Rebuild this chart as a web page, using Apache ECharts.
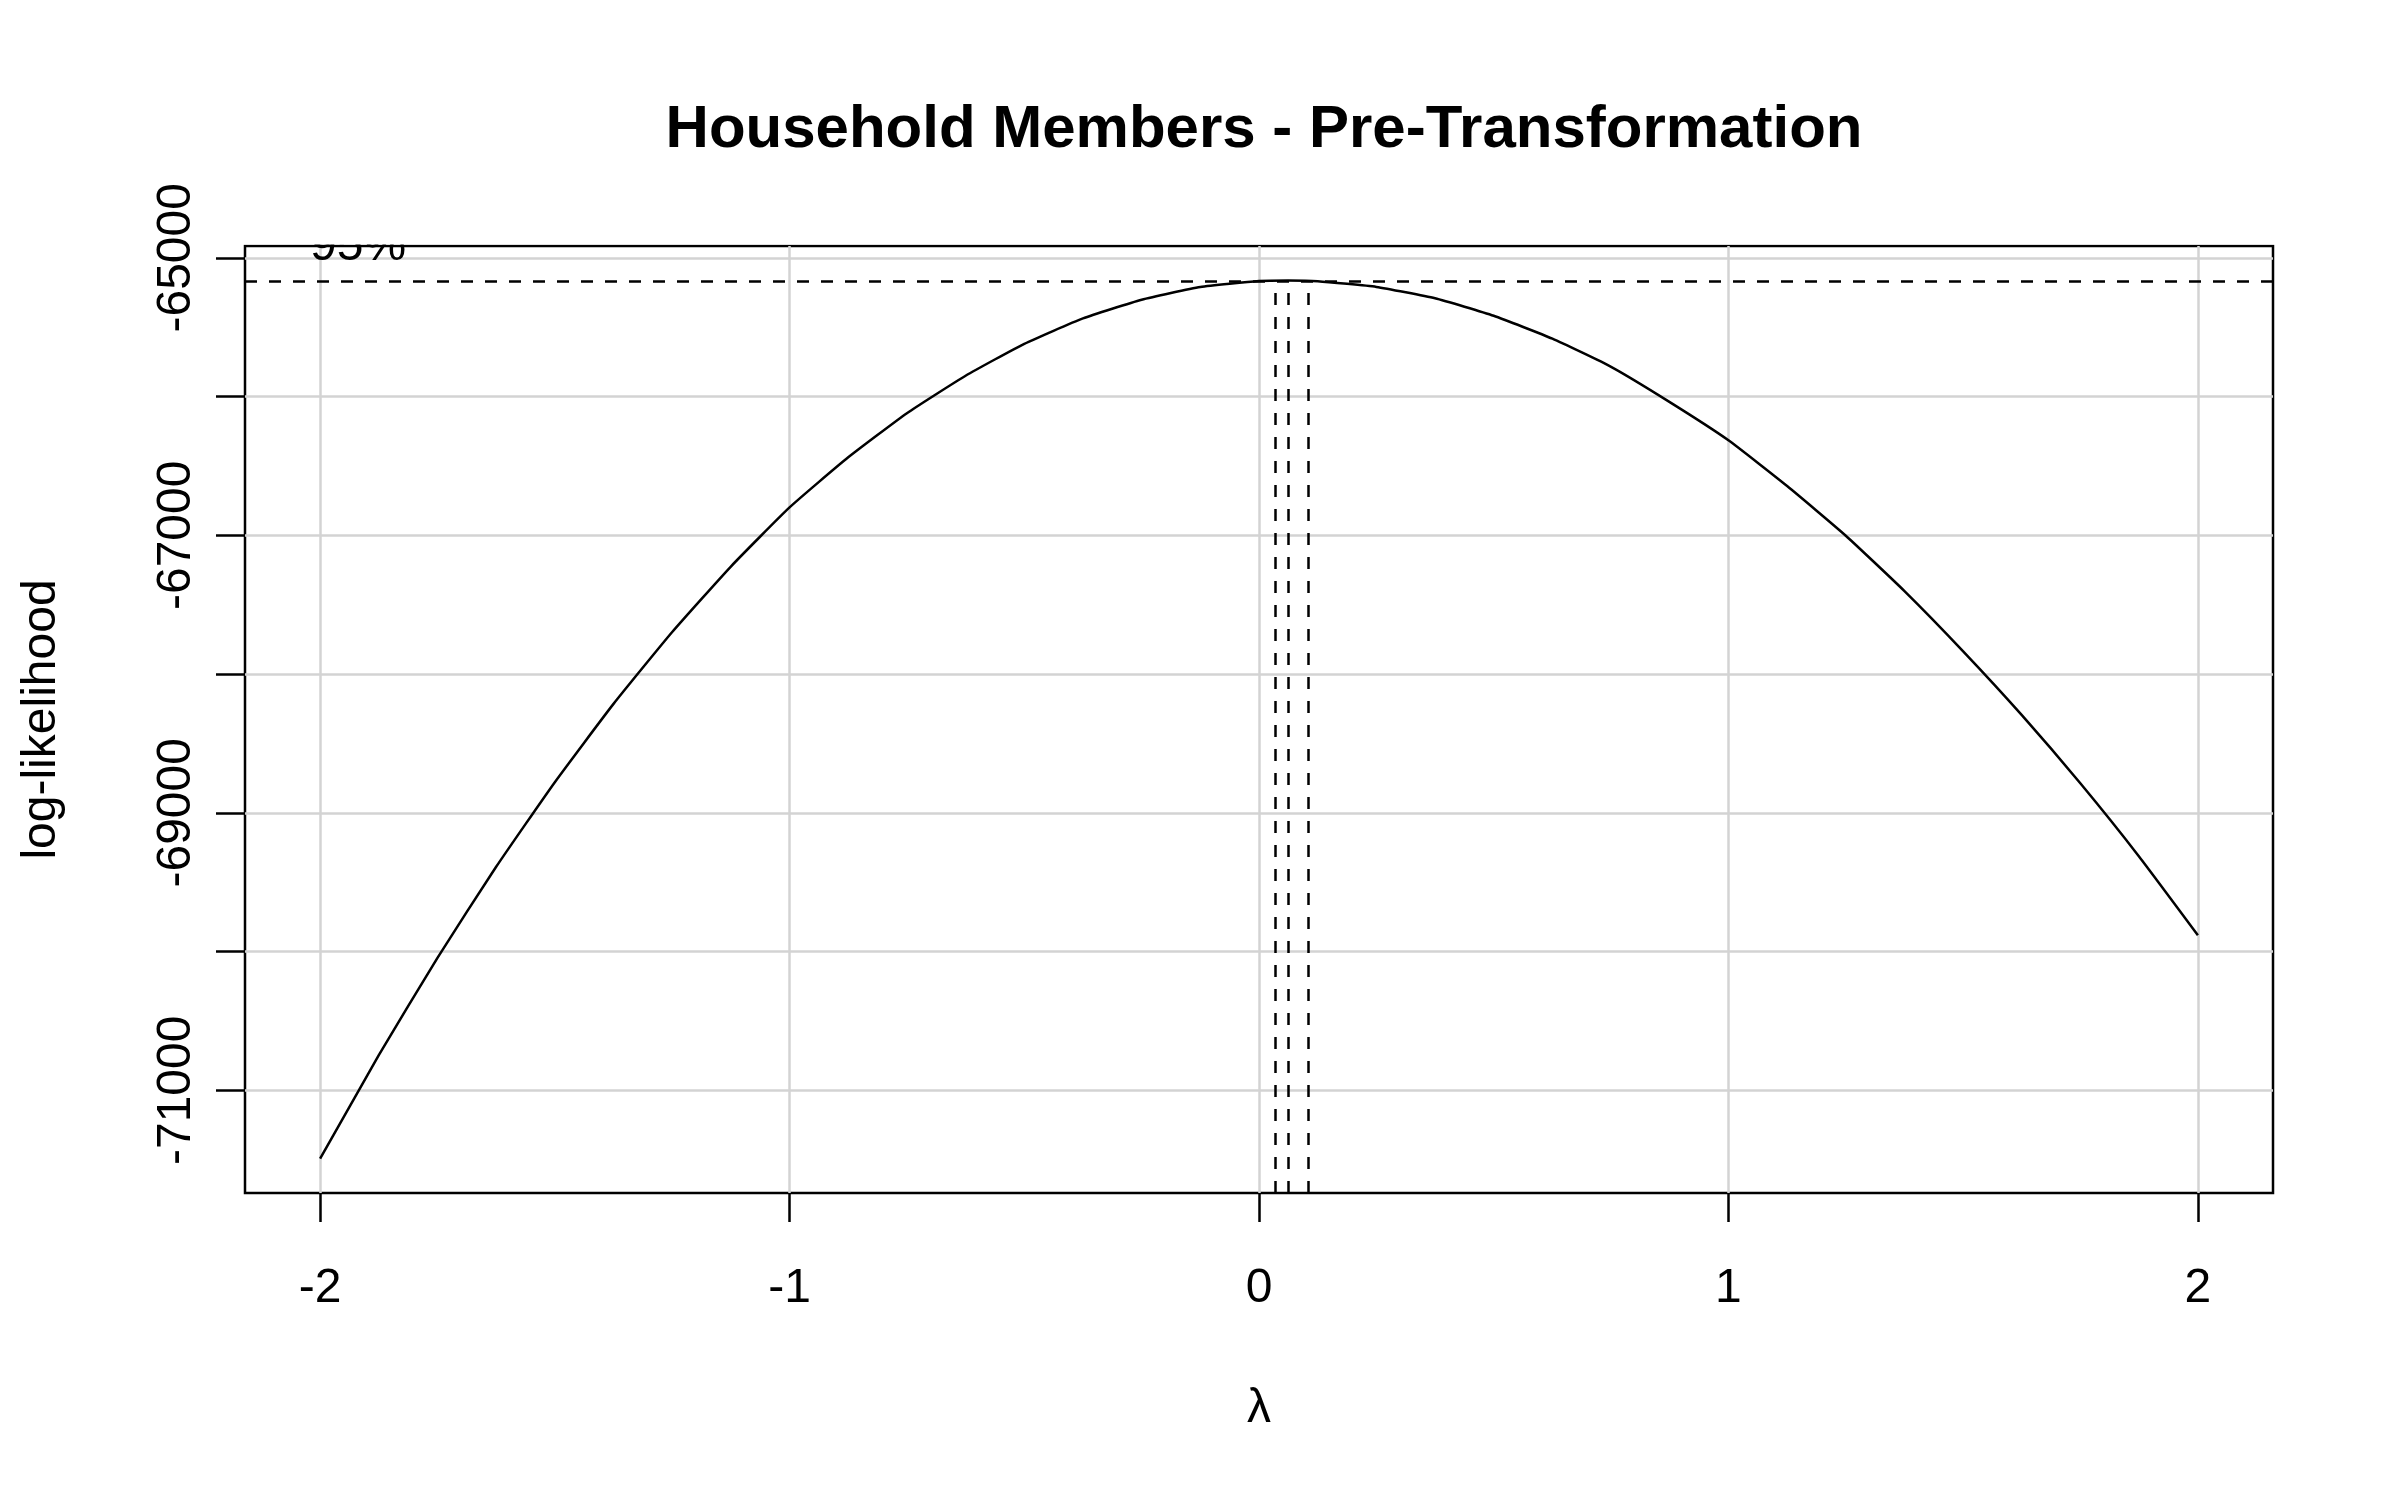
<!DOCTYPE html>
<html>
<head>
<meta charset="utf-8">
<script src="https://cdn.jsdelivr.net/npm/echarts@6/dist/echarts.min.js"></script>
<style>
html, body { margin: 0; padding: 0; background: #ffffff; }
#chart { width: 2400px; height: 1500px; }
</style>
</head>
<body>
<div id="chart"></div>
<script>
// ---- data ----
const lambdaValues = [-2, -1.875, -1.75, -1.625, -1.5, -1.375, -1.25, -1.125, -1, -0.875, -0.75, -0.625, -0.5, -0.375, -0.25, -0.125, 0, 0.062, 0.125, 0.25, 0.375, 0.5, 0.625, 0.75, 0.875, 1, 1.125, 1.25, 1.375, 1.5, 1.625, 1.75, 1.875, 2];
const logLikValues = [-71493, -70747, -70045, -69389, -68779, -68215, -67697, -67225, -66799, -66438, -66120, -65850, -65620, -65437, -65302, -65210, -65168, -65164, -65169, -65210, -65292, -65418, -65583, -65786, -66040, -66315, -66645, -67003, -67402, -67836, -68296, -68789, -69316, -69882];
const ciLevel = -65166;            // 95% log-likelihood cut-off
const ciLambdas = [0.034, 0.062, 0.104];
const xTickValues = [-2, -1, 0, 1, 2];
const yTickValues = [-65000, -66000, -67000, -68000, -69000, -70000, -71000];
const yLabelValues = [-65000, -67000, -69000, -71000];
const xRange = [-2.16, 2.16];
const yRange = [-71740, -64915];
const titleText = 'Household Members - Pre-Transformation';
const xName = 'λ';
const yName = 'log-likelihood';
const ciText = '95%';

const FONT = '"Liberation Sans", Arial, sans-serif';
const seriesData = lambdaValues.map((l, i) => [l, logLikValues[i]]);

const chart = echarts.init(document.getElementById('chart'), null, { renderer: 'canvas' });
chart.setOption({
  backgroundColor: '#ffffff',
  animation: false,
  title: {
    text: titleText,
    left: 1259,
    textAlign: 'center',
    top: 95,
    textStyle: { fontFamily: FONT, fontSize: 60, fontWeight: 'bold', color: '#000' }
  },
  grid: {
    left: 245, right: 127, top: 246, bottom: 307,
    show: true, borderColor: '#000', borderWidth: 2.5, backgroundColor: 'transparent'
  },
  xAxis: {
    type: 'value', min: xRange[0], max: xRange[1],
    name: xName, nameLocation: 'middle', nameGap: 192,
    nameTextStyle: { fontFamily: FONT, fontSize: 48, color: '#000' },
    axisLine: { show: false, onZero: false },
    axisTick: { show: true, inside: false, length: 29, customValues: xTickValues, lineStyle: { color: '#000', width: 2.5 } },
    axisLabel: { show: true, customValues: xTickValues, margin: 72, fontFamily: FONT, fontSize: 48, color: '#000', formatter: v => String(v) },
    splitLine: { show: true, lineStyle: { color: '#d3d3d3', width: 2.5 } }
  },
  yAxis: {
    type: 'value', min: yRange[0], max: yRange[1],
    name: yName, nameLocation: 'middle', nameGap: 179, nameRotate: 90,
    nameTextStyle: { fontFamily: FONT, fontSize: 48, color: '#000' },
    axisLine: { show: false, onZero: false },
    axisTick: { show: true, inside: false, length: 29, customValues: yTickValues, lineStyle: { color: '#000', width: 2.5 } },
    axisLabel: { show: true, customValues: yLabelValues, rotate: 90, margin: 44, fontFamily: FONT, fontSize: 48, color: '#000', formatter: v => String(v) },
    splitLine: { show: true, lineStyle: { color: '#d3d3d3', width: 2.5 } }
  },
  series: [{
    type: 'line',
    data: seriesData,
    showSymbol: false,
    smooth: 0.15,
    clip: true,
    lineStyle: { color: '#000', width: 2.5 },
    z: 5,
    markLine: {
      silent: true,
      symbol: ['none', 'none'],
      animation: false,
      lineStyle: { color: '#000', width: 2.5, type: [12, 12] },
      data: [
        {
          yAxis: ciLevel,
          label: { show: true, position: 'insideStartTop', formatter: ciText, distance: [65, 10], fontFamily: FONT, fontSize: 48, color: '#000' }
        }
      ].concat(ciLambdas.map(l => [
        { coord: [l, yRange[0]], label: { show: false } },
        { coord: [l, ciLevel] }
      ]))
    }
  }],
  graphic: [{
    type: 'rect',
    z: 100,
    shape: { x: 240, y: 180, width: 2040, height: 64.5 },
    style: { fill: '#ffffff' }
  }]
});
</script>
</body>
</html>
